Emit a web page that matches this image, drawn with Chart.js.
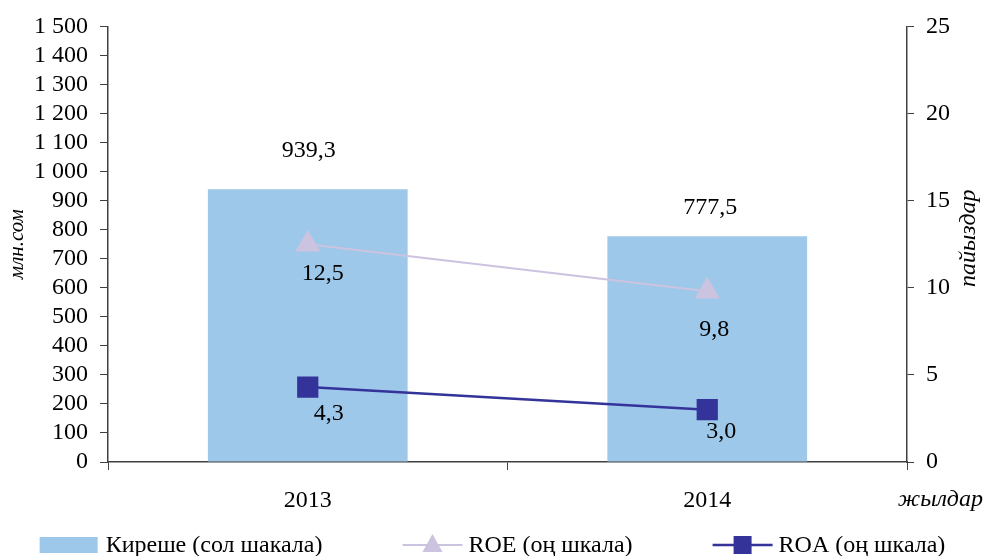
<!DOCTYPE html>
<html>
<head>
<meta charset="utf-8">
<script src="https://cdn.jsdelivr.net/npm/chart.js@4/dist/chart.umd.min.js"></script>
<style>
  html, body { margin: 0; padding: 0; background: #fff; }
  #wrap { width: 985px; height: 556px; }
</style>
</head>
<body>
<div id="wrap"><canvas id="chart" width="985" height="556"></canvas></div>
<script>
// data
var years = ['2013', '2014'];
var income = [939.3, 777.5];   // млн.сом, left scale
var roe = [12.5, 9.8];         // %, right scale
var roa = [4.3, 3.0];          // %, right scale

var FONT = "'Liberation Serif', 'Times New Roman', serif";
var AXIS = '#404040';
var BAR = '#9DC8EA';
var ROE_C = '#CCC3E0';
var ROA_C = '#333399';

Chart.defaults.font.family = FONT;
Chart.defaults.font.size = 24;
Chart.defaults.color = '#000';

var fmtComma = function (v) { return v.toFixed(1).replace('.', ','); };
var fmtThousands = function (v) { return String(v).replace(/\B(?=(\d{3})+(?!\d))/g, ' '); };

// value labels, offsets in px per point
var valueLabels = {
    id: 'valueLabels',
    afterDatasetsDraw: function (chart) {
        var ctx = chart.ctx;
        ctx.save();
        ctx.font = '24px ' + FONT;
        ctx.fillStyle = '#000';
        ctx.textAlign = 'center';
        ctx.textBaseline = 'middle';
        chart.data.datasets.forEach(function (ds, i) {
            var meta = chart.getDatasetMeta(i);
            meta.data.forEach(function (el, j) {
                var off = ds.labelOffsets[j];
                ctx.fillText(fmtComma(ds.data[j]), el.x + off[0], el.y + off[1]);
            });
        });
        ctx.restore();
    }
};

// right axis caption, "жылдар" and the legend row at the bottom
var extras = {
    id: 'extras',
    afterDraw: function (chart) {
        var ctx = chart.ctx;
        var xs = chart.scales.x;
        var area = chart.chartArea;
        ctx.save();
        ctx.fillStyle = '#000';
        ctx.textBaseline = 'middle';
        ctx.font = 'italic 24px ' + FONT;

        // пайыздар, reads bottom to top like the left one
        ctx.save();
        ctx.translate(chart.width - 16, (area.top + area.bottom) / 2 - 6);
        ctx.rotate(-Math.PI / 2);
        ctx.textAlign = 'center';
        ctx.fillText('пайыздар', 0, 0);
        ctx.restore();

        ctx.textAlign = 'right';
        ctx.fillText('жылдар', chart.width - 2, xs.top + 38);

        // legend
        ctx.font = '24px ' + FONT;
        ctx.textAlign = 'left';
        var items = [
            { text: 'Киреше (сол шакала)', kind: 'bar' },
            { text: 'ROE (оң шкала)', kind: 'tri' },
            { text: 'ROA (оң шкала)', kind: 'sq' }
        ];
        var sw = 60, gapIn = 6, gap = 80;
        var total = 0;
        items.forEach(function (it) {
            it.w = sw + gapIn + ctx.measureText(it.text).width;
            total += it.w;
        });
        total += gap * (items.length - 1);
        var x = (chart.width - total) / 2;
        var y = chart.height - 11;
        items.forEach(function (it) {
            if (it.kind === 'bar') {
                ctx.fillStyle = BAR;
                ctx.fillRect(x, y - 8, sw - 2, 16);
            } else {
                var col = it.kind === 'tri' ? ROE_C : ROA_C;
                ctx.strokeStyle = col;
                ctx.lineWidth = it.kind === 'tri' ? 2 : 2.5;
                ctx.beginPath();
                ctx.moveTo(x, y);
                ctx.lineTo(x + sw, y);
                ctx.stroke();
                ctx.fillStyle = col;
                var cx = x + sw / 2;
                ctx.beginPath();
                if (it.kind === 'tri') {
                    ctx.moveTo(cx, y - 11);
                    ctx.lineTo(cx + 10, y + 7);
                    ctx.lineTo(cx - 10, y + 7);
                    ctx.closePath();
                } else {
                    ctx.rect(cx - 9, y - 9, 18, 18);
                }
                ctx.fill();
            }
            ctx.fillStyle = '#000';
            ctx.fillText(it.text, x + sw + gapIn, y + 1);
            x += it.w + gap;
        });
        ctx.restore();
    }
};

var config = {
    type: 'bar',
    data: {
        labels: years,
        datasets: [
            {
                type: 'line',
                label: 'ROE (оң шкала)',
                data: roe,
                yAxisID: 'y1',
                borderColor: ROE_C,
                backgroundColor: ROE_C,
                borderWidth: 2,
                pointStyle: 'triangle',
                pointRadius: 14.5,
                pointBorderWidth: 0,
                pointBackgroundColor: ROE_C,
                order: 2,
                labelOffsets: [[15, 30], [7, 38]]
            },
            {
                type: 'line',
                label: 'ROA (оң шкала)',
                data: roa,
                yAxisID: 'y1',
                borderColor: ROA_C,
                backgroundColor: ROA_C,
                borderWidth: 2.5,
                pointStyle: 'rect',
                pointRadius: 15,
                pointBorderWidth: 0,
                pointBackgroundColor: ROA_C,
                order: 1,
                labelOffsets: [[21, 27], [14, 22]]
            },
            {
                type: 'bar',
                label: 'Киреше (сол шакала)',
                data: income,
                yAxisID: 'y',
                backgroundColor: BAR,
                borderWidth: 0,
                barPercentage: 0.5,
                categoryPercentage: 1,
                order: 3,
                labelOffsets: [[1, -39], [3, -29]]
            }
        ]
    },
    options: {
        responsive: false,
        animation: false,
        layout: { padding: { top: 25, bottom: 44, left: 0, right: 0 } },
        plugins: {
            legend: { display: false },
            tooltip: { enabled: false }
        },
        scales: {
            x: {
                offset: true,
                grid: { display: true, drawOnChartArea: false, offset: true, tickLength: 8, color: AXIS, lineWidth: 1 },
                border: { display: true, color: AXIS, width: 1.5 },
                ticks: { padding: 16, font: { size: 24 }, maxRotation: 0 },
                afterFit: function (s) { s.height = 50; }
            },
            y: {
                position: 'left',
                min: 0,
                max: 1500,
                ticks: { stepSize: 100, padding: 12, autoSkip: false, callback: fmtThousands },
                grid: { drawOnChartArea: false, tickLength: 8, color: AXIS },
                border: { display: true, color: AXIS, width: 1.5 },
                title: { display: true, text: 'млн.сом', font: { style: 'italic', size: 21 }, padding: { top: 5, bottom: 4 } },
                afterFit: function (s) { s.width = 108; }
            },
            y1: {
                position: 'right',
                min: 0,
                max: 25,
                ticks: { stepSize: 5, padding: 12, autoSkip: false },
                grid: { drawOnChartArea: false, tickLength: 7, color: AXIS },
                border: { display: true, color: AXIS, width: 1.5 },
                afterFit: function (s) { s.width = 78; }
            }
        }
    },
    plugins: [valueLabels, extras]
};

new Chart(document.getElementById('chart'), config);
</script>
</body>
</html>
